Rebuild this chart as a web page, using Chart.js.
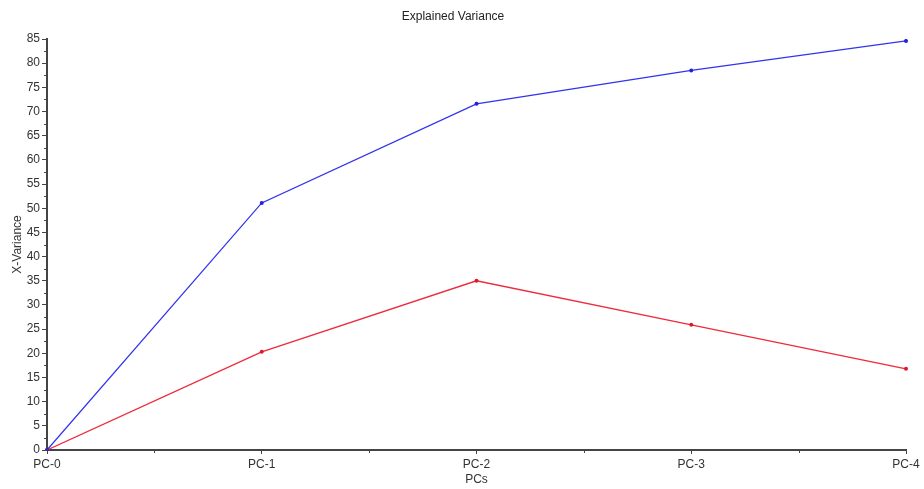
<!DOCTYPE html>
<html>
<head>
<meta charset="utf-8">
<title>Explained Variance</title>
<script src="https://cdn.jsdelivr.net/npm/chart.js@4.4.1/dist/chart.umd.min.js"></script>
<style>
    html, body { margin: 0; padding: 0; background: #fff; }
    #wrap { position: relative; width: 924px; height: 489px; }
</style>
</head>
<body>
<div id="wrap"><canvas id="varianceChart"></canvas></div>
<script>
// Cumulative and per-component explained variance
const pcLabels = ['PC-0', 'PC-1', 'PC-2', 'PC-3', 'PC-4'];
const cumulativeVariance = [0, 51.1, 71.6, 78.5, 84.6];
const componentVariance = [0, 20.3, 35.0, 25.9, 16.8];
const yTicks = { min: 0, max: 85, step: 5 };

const axisColor = '#444';
const labelColor = '#333';

/**
 * Small minor ticks halfway between the major ones on both axes
 */
const minorTicks = {
    id: 'minorTicks',
    afterDraw(chart) {
        const { ctx, scales: { x, y } } = chart;
        ctx.save();
        ctx.strokeStyle = axisColor;
        ctx.lineWidth = 1;
        ctx.beginPath();
        for (let v = yTicks.min + yTicks.step / 2; v < yTicks.max; v += yTicks.step) {
            const py = Math.round(y.getPixelForValue(v)) + 0.5;
            ctx.moveTo(y.right - 3, py);
            ctx.lineTo(y.right, py);
        }
        for (let i = 0; i < pcLabels.length - 1; i++) {
            const px = Math.round(x.getPixelForValue(i + 0.5)) + 0.5;
            ctx.moveTo(px, x.top);
            ctx.lineTo(px, x.top + 3);
        }
        ctx.stroke();
        ctx.restore();
    }
};

Chart.defaults.font.family = '"Liberation Sans", Arial, sans-serif';
Chart.defaults.font.size = 12;
Chart.defaults.color = labelColor;

new Chart(document.getElementById('varianceChart'), {
    type: 'line',
    data: {
        labels: pcLabels,
        datasets: [{
            label: 'Cumulative',
            data: cumulativeVariance,
            borderColor: '#3333ee',
            backgroundColor: '#2222dd',
            borderWidth: 1.3,
            pointRadius: 2,
            pointBorderWidth: 0,
            tension: 0
        }, {
            label: 'Component',
            data: componentVariance,
            borderColor: '#ee2a3c',
            backgroundColor: '#dd1a2c',
            borderWidth: 1.3,
            pointRadius: 2,
            pointBorderWidth: 0,
            tension: 0
        }]
    },
    options: {
        responsive: true,
        maintainAspectRatio: false,
        animation: false,
        layout: {
            padding: { top: 0, right: 18, bottom: 0, left: 0 }
        },
        plugins: {
            legend: { display: false },
            tooltip: { enabled: false },
            title: {
                display: true,
                text: 'Explained Variance',
                color: '#222',
                font: { size: 12, weight: 'normal' },
                padding: { top: 9, bottom: 15.6 }
            }
        },
        scales: {
            x: {
                type: 'category',
                offset: false,
                afterFit: (scale) => { scale.height = 39; },
                grid: {
                    drawOnChartArea: false,
                    drawTicks: true,
                    tickLength: 4,
                    tickColor: axisColor,
                    offset: false
                },
                border: { color: axisColor, width: 2 },
                ticks: { padding: 3, maxRotation: 0, autoSkip: false, color: labelColor },
                title: {
                    display: true,
                    text: 'PCs',
                    color: labelColor,
                    padding: { top: 0, bottom: 2 }
                }
            },
            y: {
                min: yTicks.min,
                max: yTicks.max,
                afterFit: (scale) => { scale.width = 47; },
                grid: {
                    drawOnChartArea: false,
                    drawTicks: true,
                    tickLength: 5,
                    tickColor: axisColor
                },
                border: { color: axisColor, width: 2 },
                ticks: { stepSize: yTicks.step, padding: 2, color: labelColor },
                title: {
                    display: true,
                    text: 'X-Variance',
                    color: labelColor,
                    padding: { top: 10, bottom: 0 }
                }
            }
        }
    },
    plugins: [minorTicks]
});
</script>
</body>
</html>
